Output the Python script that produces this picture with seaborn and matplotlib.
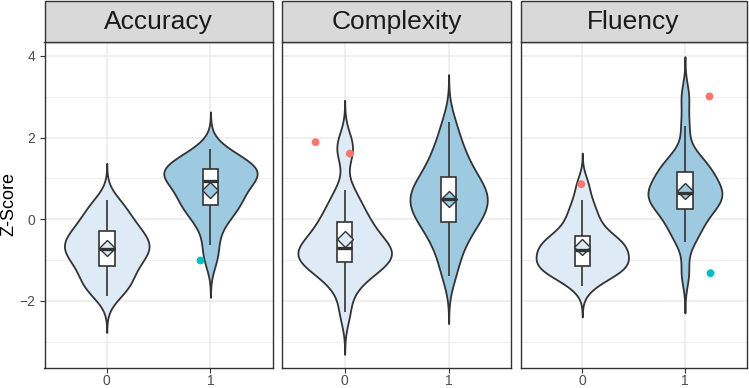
import numpy as np
import pandas as pd
import matplotlib
matplotlib.use("Agg")
import matplotlib.pyplot as plt
from matplotlib.patches import Rectangle
import seaborn as sns

# ---------------- data ----------------
measures = ["Accuracy", "Complexity", "Fluency"]
groups = ["0", "1"]

accuracy_0 = [-1.87, -1.72, -1.62, -1.52, -1.40, -1.26, -1.14, -1.08, -0.98, -0.86,
              -0.80, -0.76, -0.72, -0.65, -0.58, -0.50, -0.42, -0.35, -0.29, -0.20,
              -0.08, 0.05, 0.18, 0.32, 0.47]
accuracy_1 = [-1.00, -0.63, -0.25, 0.00, 0.12, 0.24, 0.36, 0.44, 0.52, 0.60,
              0.70, 0.80, 0.94, 0.99, 1.04, 1.08, 1.12, 1.17, 1.22, 1.27,
              1.33, 1.40, 1.48, 1.58, 1.72]
complexity_0 = [-2.28, -1.70, -1.45, -1.30, -1.20, -1.12, -1.04, -0.98, -0.92, -0.86,
                -0.80, -0.75, -0.71, -0.62, -0.52, -0.42, -0.30, -0.18, -0.07, 0.08,
                0.25, 0.45, 0.72, 1.61, 1.89]
complexity_1 = [-1.40, -1.00, -0.70, -0.50, -0.30, -0.17, -0.06, 0.05, 0.15, 0.25,
                0.33, 0.41, 0.49, 0.57, 0.65, 0.74, 0.83, 0.93, 1.03, 1.18,
                1.34, 1.52, 1.72, 1.98, 2.39]
fluency_0 = [-1.63, -1.45, -1.35, -1.28, -1.22, -1.18, -1.14, -1.08, -1.02, -0.96,
             -0.89, -0.82, -0.76, -0.70, -0.64, -0.58, -0.52, -0.47, -0.42, -0.25,
             -0.10, 0.05, 0.25, 0.47, 0.86]
fluency_1 = [-1.32, -0.55, -0.35, -0.20, -0.05, 0.12, 0.25, 0.32, 0.39, 0.46,
             0.52, 0.58, 0.64, 0.70, 0.77, 0.85, 0.93, 1.03, 1.17, 1.24,
             1.32, 1.42, 1.60, 2.29, 3.01]

scores = {
    "Accuracy": (accuracy_0, accuracy_1),
    "Complexity": (complexity_0, complexity_1),
    "Fluency": (fluency_0, fluency_1),
}

# horizontal jitter of the outlier points (group order, ascending value)
outlier_jitter = {
    "Accuracy": [-0.10],
    "Complexity": [0.05, -0.28],
    "Fluency": [-0.01, 0.25, 0.24],
}

y_major = [-2, 0, 2, 4]
y_minor = [-3, -1, 1, 3]

# ---------------- style ----------------
group_fill = {"0": "#DEEBF7", "1": "#9ECAE1"}
outlier_color = {"high": "#F8766D", "low": "#00BFC4"}
EDGE = "#333333"

sns.set_theme(style="white")
plt.rcParams["font.family"] = ["Liberation Sans", "DejaVu Sans"]


def nrd0_factor(kde):
    """R's bw.nrd0 expressed as a factor of the sample std."""
    x = np.asarray(kde.dataset, dtype=float).ravel()
    sd = x.std(ddof=1)
    q75, q25 = np.percentile(x, [75, 25])
    lo = min(sd, (q75 - q25) / 1.34)
    return 0.9 * lo * len(x) ** (-0.2) / sd


W, H = 749, 388
fig = plt.figure(figsize=(W / 100, H / 100), dpi=100)
fig.patch.set_facecolor("white")
panel_x = [(44.5, 272.7), (282.3, 511.0), (520.7, 746.5)]
p_top, p_bot = 41.7, 367.5
ylim = (-3.63, 4.35)

for i, (m, (x0, x1)) in enumerate(zip(measures, panel_x)):
    ax = fig.add_axes([x0 / W, 1 - p_bot / H, (x1 - x0) / W, (p_bot - p_top) / H])
    g0, g1 = scores[m]
    df = pd.DataFrame({"group": ["0"] * len(g0) + ["1"] * len(g1),
                       "score": list(g0) + list(g1)})

    sns.violinplot(data=df, x="group", y="score", hue="group", order=groups,
                   hue_order=groups, palette=group_fill, saturation=1, width=0.9,
                   cut=3, gridsize=512, bw_method=nrd0_factor, density_norm="area",
                   common_norm=True, inner=None, linecolor=EDGE, linewidth=1.3,
                   legend=False, ax=ax)
    sns.boxplot(data=df, x="group", y="score", order=groups, width=0.15,
                color="white", saturation=1, linecolor=EDGE, linewidth=1.2,
                showfliers=False, showcaps=False, medianprops={"linewidth": 2.4},
                ax=ax)
    sns.pointplot(data=df, x="group", y="score", hue="group", order=groups,
                  hue_order=groups, palette=group_fill, estimator="mean",
                  errorbar=None, markers="D", linestyles="none", markersize=7.8,
                  markeredgecolor=EDGE, markeredgewidth=1.0, legend=False, ax=ax)

    rows = []
    for gi, vals in enumerate((g0, g1)):
        v = np.sort(np.asarray(vals, dtype=float))
        q1, q3 = np.percentile(v, [25, 75])
        iqr = q3 - q1
        for val in v:
            if val > q3 + 1.5 * iqr:
                rows.append((gi, val, "high"))
            elif val < q1 - 1.5 * iqr:
                rows.append((gi, val, "low"))
    out = pd.DataFrame(rows, columns=["pos", "score", "direction"])
    out["pos"] = out["pos"] + np.array(outlier_jitter[m])
    sns.scatterplot(data=out, x="pos", y="score", hue="direction",
                    palette=outlier_color, s=32, linewidth=0, legend=False,
                    ax=ax, zorder=5)

    ax.set_xlim(-0.6, 1.6)
    ax.set_ylim(*ylim)
    ax.set_xticks([0, 1])
    ax.set_xticklabels(groups)
    ax.set_yticks(y_major)
    ax.set_yticks(y_minor, minor=True)
    ax.set_facecolor("white")
    ax.grid(True, which="major", color="#EBEBEB", linewidth=1.1)
    ax.grid(True, which="minor", axis="y", color="#EBEBEB", linewidth=0.55)
    ax.set_axisbelow(True)
    ax.set_xlabel("")
    ax.set_ylabel("")
    for s in ax.spines.values():
        s.set_visible(True)
        s.set_color(EDGE)
        s.set_linewidth(1.0)
    ax.tick_params(axis="both", which="major", length=3.6, width=0.8, color=EDGE,
                   labelsize=10, labelcolor="#4D4D4D", pad=3, bottom=True, left=True)
    ax.tick_params(axis="x", which="major", pad=1)
    ax.tick_params(axis="y", which="minor", length=0, left=False)
    if i > 0:
        ax.tick_params(axis="y", which="both", left=False, labelleft=False)

    fig.add_artist(Rectangle((x0 / W, 1 - p_top / H), (x1 - x0) / W, (p_top - 0.5) / H,
                             transform=fig.transFigure, facecolor="#D9D9D9",
                             edgecolor=EDGE, linewidth=1.0))
    fig.text((x0 + x1) / 2 / W, 1 - 21.5 / H, m, ha="center", va="center",
             fontsize=19, color="#1A1A1A")

fig.text(8.5 / W, 1 - 204 / H, "Z-Score", rotation=90, ha="center", va="center",
         fontsize=13, color="black")

fig.savefig("out.png", dpi=100)
